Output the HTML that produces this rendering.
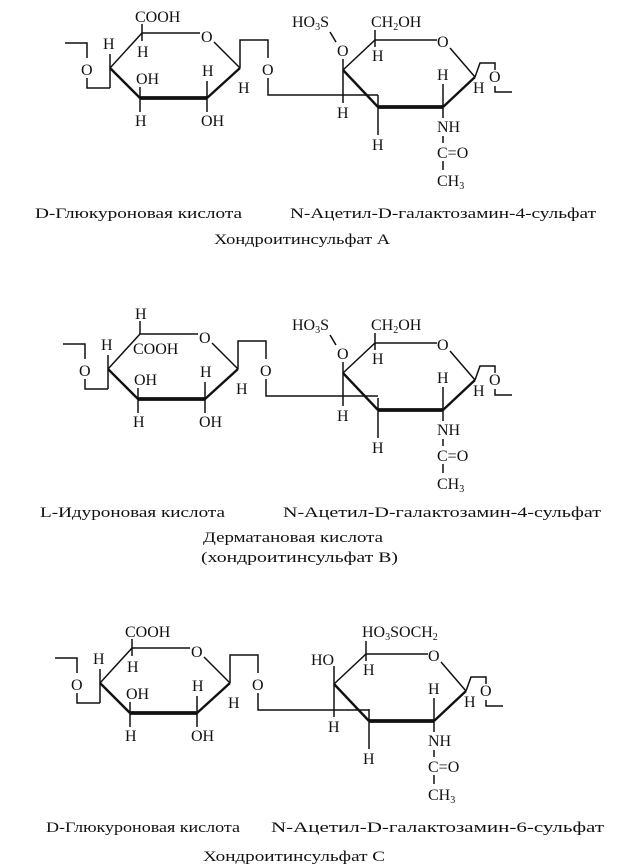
<!DOCTYPE html>
<html><head><meta charset="utf-8">
<style>
html,body{margin:0;padding:0;background:#fff;}
svg{display:block;}
text{font-family:"Liberation Serif","DejaVu Serif",serif;fill:#111;}
.c{font-size:16px;}
.s{font-size:10px;}
.cap{font-size:15px;}
</style></head><body>
<svg width="620" height="865" viewBox="0 0 620 865" xmlns="http://www.w3.org/2000/svg">

<!-- ============ BLOCK A ============ -->
<g stroke="#111" fill="none" stroke-width="1.5">
  <path d="M65,43 L87,43 L87,58 M87,78 L87,88 L110,88 M110,54 L110,88"/>
  <path d="M110,68 L142,33 L200,33 M214,42 L240,68"/>
  <path d="M240,68 L207,98 M140,98 L110,68" stroke-width="2.4"/>
  <path d="M207,98 L140,98" stroke-width="3.8"/>
  <path d="M142,33 L142,24 M142,33 L142,41 M140,98 L140,87 M140,98 L140,112 M207,98 L207,81 M207,98 L207,112"/>
  <path d="M240,68 L240,40 L268,40 L268,58 M268,78 L268,95 L378,95"/>
  <path d="M343,70 L375,40 L437,40 M450,48 L475,77"/>
  <path d="M475,77 L443,107 M378,107 L343,70" stroke-width="2.4"/>
  <path d="M443,107 L378,107" stroke-width="3.8"/>
  <path d="M378,95 L378,107 M343,70 L343,59 M336,42 L330,32 M343,70 L343,103 M375,40 L375,30 M375,40 L375,47 M378,107 L378,135 M443,107 L443,84 M443,107 L443,118 M443,136 L443,143 M443,161 L443,170"/>
  <path d="M475,77 L480,63 L495,63 L495,70 M495,86 L495,92 L512,92"/>
</g>
<g class="c">
  <text x="81" y="75">O</text>
  <text x="103" y="49">H</text>
  <text x="135" y="22">COOH</text>
  <text x="137" y="57">H</text>
  <text x="136" y="84">OH</text>
  <text x="135" y="126">H</text>
  <text x="202" y="76">H</text>
  <text x="201" y="126">OH</text>
  <text x="201" y="42">O</text>
  <text x="238" y="93">H</text>
  <text x="262" y="75">O</text>
  <text x="292" y="27">HO<tspan class="s" dy="3">3</tspan><tspan dy="-3">S</tspan></text>
  <text x="337" y="56">O</text>
  <text x="337" y="118">H</text>
  <text x="371" y="27">CH<tspan class="s" dy="3">2</tspan><tspan dy="-3">OH</tspan></text>
  <text x="372" y="61">H</text>
  <text x="437" y="47">O</text>
  <text x="372" y="150">H</text>
  <text x="437" y="80">H</text>
  <text x="437" y="132">NH</text>
  <text x="437" y="158">C=O</text>
  <text x="437" y="186">CH<tspan class="s" dy="3">3</tspan></text>
  <text x="473" y="93">H</text>
  <text x="489" y="82">O</text>
</g>
<g class="cap">
  <text x="35" y="218" textLength="207" lengthAdjust="spacingAndGlyphs">D-Глюкуроновая кислота</text>
  <text x="290" y="218" textLength="306" lengthAdjust="spacingAndGlyphs">N-Ацетил-D-галактозамин-4-сульфат</text>
  <text x="214" y="244" textLength="176" lengthAdjust="spacingAndGlyphs">Хондроитинсульфат А</text>
</g>

<!-- ============ BLOCK B ============ -->
<g transform="translate(-2,301)">
 <g stroke="#111" fill="none" stroke-width="1.5">
  <path d="M65,43 L87,43 L87,58 M87,78 L87,88 L110,88 M110,54 L110,88"/>
  <path d="M110,68 L142,33 L200,33 M214,42 L240,68"/>
  <path d="M240,68 L207,98 M140,98 L110,68" stroke-width="2.4"/>
  <path d="M207,98 L140,98" stroke-width="3.8"/>
  <path d="M142,33 L142,20 M140,98 L140,87 M140,98 L140,112 M207,98 L207,81 M207,98 L207,112"/>
  <path d="M240,68 L240,40 L268,40 L268,58 M268,78 L268,95 L380,95"/>
 </g>
 <g class="c">
  <text x="81" y="75">O</text>
  <text x="103" y="49">H</text>
  <text x="137" y="18">H</text>
  <text x="135" y="53">COOH</text>
  <text x="136" y="84">OH</text>
  <text x="135" y="126">H</text>
  <text x="202" y="76">H</text>
  <text x="201" y="126">OH</text>
  <text x="201" y="42">O</text>
  <text x="238" y="93">H</text>
  <text x="262" y="75">O</text>
 </g>
</g>
<g transform="translate(0,303)">
 <g stroke="#111" fill="none" stroke-width="1.5">
  <path d="M343,70 L375,40 L437,40 M450,48 L475,77"/>
  <path d="M475,77 L443,107 M378,107 L343,70" stroke-width="2.4"/>
  <path d="M443,107 L378,107" stroke-width="3.8"/>
  <path d="M378,95 L378,107 M343,70 L343,59 M336,42 L330,32 M343,70 L343,103 M375,40 L375,30 M375,40 L375,47 M378,107 L378,135 M443,107 L443,84 M443,107 L443,118 M443,136 L443,143 M443,161 L443,170"/>
  <path d="M475,77 L480,63 L495,63 L495,70 M495,86 L495,92 L512,92"/>
 </g>
 <g class="c">
  <text x="292" y="27">HO<tspan class="s" dy="3">3</tspan><tspan dy="-3">S</tspan></text>
  <text x="337" y="56">O</text>
  <text x="337" y="118">H</text>
  <text x="371" y="27">CH<tspan class="s" dy="3">2</tspan><tspan dy="-3">OH</tspan></text>
  <text x="372" y="61">H</text>
  <text x="437" y="47">O</text>
  <text x="372" y="150">H</text>
  <text x="437" y="80">H</text>
  <text x="437" y="132">NH</text>
  <text x="437" y="158">C=O</text>
  <text x="437" y="186">CH<tspan class="s" dy="3">3</tspan></text>
  <text x="473" y="93">H</text>
  <text x="489" y="82">O</text>
 </g>
</g>
<g class="cap">
  <text x="40" y="517" textLength="185" lengthAdjust="spacingAndGlyphs">L-Идуроновая кислота</text>
  <text x="283" y="517" textLength="318" lengthAdjust="spacingAndGlyphs">N-Ацетил-D-галактозамин-4-сульфат</text>
  <text x="203" y="542" textLength="180" lengthAdjust="spacingAndGlyphs">Дерматановая кислота</text>
  <text x="201" y="562" textLength="197" lengthAdjust="spacingAndGlyphs">(хондроитинсульфат В)</text>
</g>

<!-- ============ BLOCK C ============ -->
<g transform="translate(-10,615)">
 <g stroke="#111" fill="none" stroke-width="1.5">
  <path d="M65,43 L87,43 L87,58 M87,78 L87,88 L110,88 M110,54 L110,88"/>
  <path d="M110,68 L142,33 L200,33 M214,42 L240,68"/>
  <path d="M240,68 L207,98 M140,98 L110,68" stroke-width="2.4"/>
  <path d="M207,98 L140,98" stroke-width="3.8"/>
  <path d="M142,33 L142,24 M142,33 L142,41 M140,98 L140,87 M140,98 L140,112 M207,98 L207,81 M207,98 L207,112"/>
  <path d="M240,68 L240,40 L268,40 L268,58 M268,78 L268,95 L379,95"/>
 </g>
 <g class="c">
  <text x="81" y="75">O</text>
  <text x="103" y="49">H</text>
  <text x="135" y="22">COOH</text>
  <text x="137" y="57">H</text>
  <text x="136" y="84">OH</text>
  <text x="135" y="126">H</text>
  <text x="202" y="76">H</text>
  <text x="201" y="126">OH</text>
  <text x="201" y="42">O</text>
  <text x="238" y="93">H</text>
  <text x="262" y="75">O</text>
 </g>
</g>
<g transform="translate(-9,614)">
 <g stroke="#111" fill="none" stroke-width="1.5">
  <path d="M343,70 L375,40 L437,40 M450,48 L475,77"/>
  <path d="M475,77 L443,107 M378,107 L343,70" stroke-width="2.4"/>
  <path d="M443,107 L378,107" stroke-width="3.8"/>
  <path d="M378,95 L378,107 M343,70 L343,52 M343,70 L343,103 M375,40 L375,27 M375,40 L375,47 M378,107 L378,135 M443,107 L443,84 M443,107 L443,118 M443,136 L443,143 M443,161 L443,170"/>
  <path d="M475,77 L480,63 L495,63 L495,70 M495,86 L495,92 L512,92"/>
 </g>
 <g class="c">
  <text x="320" y="51">HO</text>
  <text x="337" y="118">H</text>
  <text x="371" y="23">HO<tspan class="s" dy="3">3</tspan><tspan dy="-3">SOCH</tspan><tspan class="s" dy="3">2</tspan></text>
  <text x="372" y="61">H</text>
  <text x="437" y="47">O</text>
  <text x="372" y="150">H</text>
  <text x="437" y="80">H</text>
  <text x="437" y="132">NH</text>
  <text x="437" y="158">C=O</text>
  <text x="437" y="186">CH<tspan class="s" dy="3">3</tspan></text>
  <text x="473" y="93">H</text>
  <text x="489" y="82">O</text>
 </g>
</g>
<g class="cap">
  <text x="46" y="832" textLength="194" lengthAdjust="spacingAndGlyphs">D-Глюкуроновая кислота</text>
  <text x="271" y="832" textLength="333" lengthAdjust="spacingAndGlyphs">N-Ацетил-D-галактозамин-6-сульфат</text>
  <text x="203" y="861" textLength="182" lengthAdjust="spacingAndGlyphs">Хондроитинсульфат С</text>
</g>
</svg>
</body></html>
